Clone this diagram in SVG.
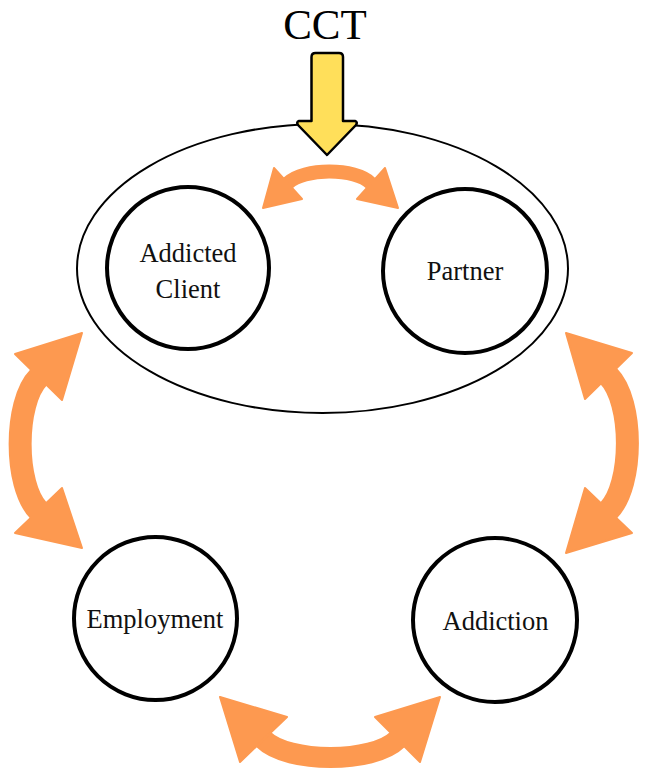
<svg xmlns="http://www.w3.org/2000/svg" width="647" height="775" viewBox="0 0 647 775">
<style>
.lbl{font-family:"Liberation Serif","Times New Roman",serif;font-size:26.5px;fill:#111;text-anchor:middle}
.node{fill:#fff;stroke:#000;stroke-width:4}
.body{fill:none;stroke:#FD9950;stroke-linecap:butt}
.head{fill:#FD9950;stroke:#FD9950;stroke-width:2;stroke-linejoin:round}
</style>
<rect width="647" height="775" fill="#fff"/>
<g id="couple">
<ellipse cx="322.5" cy="268.5" rx="245.5" ry="144.5" fill="none" stroke="#000" stroke-width="2"/>
</g>
<g id="addicted-client">
<circle class="node" cx="188" cy="268" r="81"/>
<text class="lbl" x="188" y="262">Addicted</text>
<text class="lbl" x="188" y="298">Client</text>
</g>
<g id="partner">
<circle class="node" cx="465" cy="271" r="82"/>
<text class="lbl" x="465" y="280">Partner</text>
</g>
<g id="employment">
<circle class="node" cx="155.5" cy="618.5" r="81.5"/>
<text class="lbl" x="155" y="628">Employment</text>
</g>
<g id="addiction">
<circle class="node" cx="495" cy="620" r="82"/>
<text class="lbl" x="495.5" y="630">Addiction</text>
</g>
<g id="cct">
<text x="325" y="39" font-family="'Liberation Serif','Times New Roman',serif" font-size="43" text-anchor="middle" fill="#000">CCT</text>
<path d="M311.5,57 Q311.5,53 315.5,53 L339,53 Q343,53 343,57 L343,121 L355,121 Q358,122 356,125 L327,155 L298,125 Q296,122 299,121 L311.5,121 Z" fill="#FFDF5A" stroke="#000" stroke-width="2.5" stroke-linejoin="round"/>
</g>
<g id="connectors">
<path class="body" stroke-width="14" d="M283.8,187.2 L288,183 C303.3,167.7 355.7,167.7 371,183.5 L375.2,187.7"/>
<polygon class="head" points="263,208 274,168 302,199"/>
<polygon class="head" points="398,208 385,168 357,199"/>
<path class="body" stroke-width="23" d="M42.7,373.2 L38.5,377.5 C14,402.5 14,485.5 38.5,510.5 L42.7,514.8"/>
<polygon class="head" points="82,333 15,354 62,400"/>
<polygon class="head" points="82,548 15,533 62,488"/>
<path class="body" stroke-width="23" d="M604.3,371.7 L608.5,376 C633.7,401.6 633.7,484.9 608.5,510.5 L604.3,514.8"/>
<polygon class="head" points="566,333 632,353 585,399"/>
<polygon class="head" points="566,553 632,533 585,488"/>
<path class="body" stroke-width="21" d="M259.2,735.3 L263.5,739.5 C288,763.5 373,763.5 397.5,739.5 L401.8,735.3"/>
<polygon class="head" points="220,697 287,717 240,762"/>
<polygon class="head" points="440,697 375,717 420,762"/>
</g>
</svg>
